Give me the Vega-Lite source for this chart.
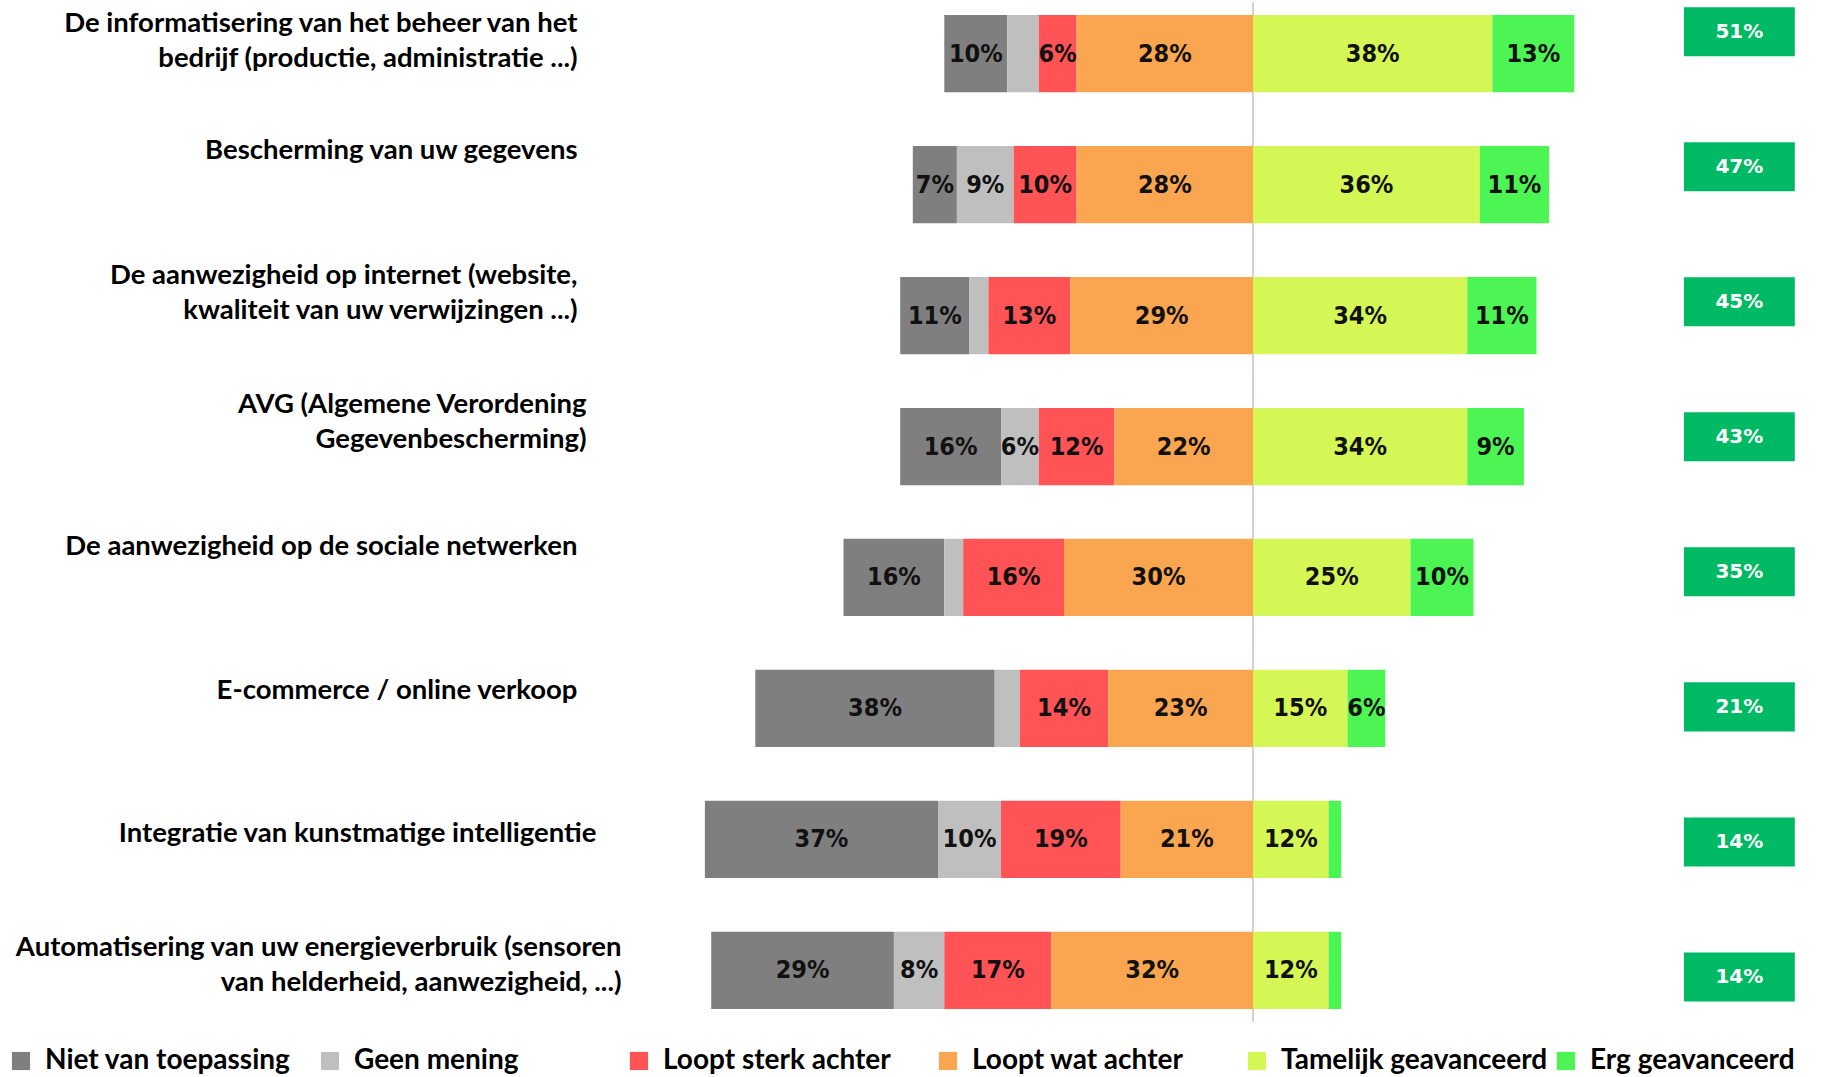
{
  "$schema": "https://vega.github.io/schema/vega-lite/v6.json",
  "width": 1197,
  "height": 1020,
  "autosize": {"type": "none"},
  "padding": {"left": 623, "top": 2, "right": 1, "bottom": 55},
  "background": "white",
  "config": {"view": {"stroke": null}},
  "datasets": {
    "seg": [
      {"item": "De informatisering van het beheer van het|bedrijf (productie, administratie ...)", "cat": "Niet van toepassing", "value": 10},
      {"item": "De informatisering van het beheer van het|bedrijf (productie, administratie ...)", "cat": "Geen mening", "value": 5},
      {"item": "De informatisering van het beheer van het|bedrijf (productie, administratie ...)", "cat": "Loopt sterk achter", "value": 6},
      {"item": "De informatisering van het beheer van het|bedrijf (productie, administratie ...)", "cat": "Loopt wat achter", "value": 28},
      {"item": "De informatisering van het beheer van het|bedrijf (productie, administratie ...)", "cat": "Tamelijk geavanceerd", "value": 38},
      {"item": "De informatisering van het beheer van het|bedrijf (productie, administratie ...)", "cat": "Erg geavanceerd", "value": 13},
      {"item": "Bescherming van uw gegevens", "cat": "Niet van toepassing", "value": 7},
      {"item": "Bescherming van uw gegevens", "cat": "Geen mening", "value": 9},
      {"item": "Bescherming van uw gegevens", "cat": "Loopt sterk achter", "value": 10},
      {"item": "Bescherming van uw gegevens", "cat": "Loopt wat achter", "value": 28},
      {"item": "Bescherming van uw gegevens", "cat": "Tamelijk geavanceerd", "value": 36},
      {"item": "Bescherming van uw gegevens", "cat": "Erg geavanceerd", "value": 11},
      {"item": "De aanwezigheid op internet (website,|kwaliteit van uw verwijzingen ...)", "cat": "Niet van toepassing", "value": 11},
      {"item": "De aanwezigheid op internet (website,|kwaliteit van uw verwijzingen ...)", "cat": "Geen mening", "value": 3},
      {"item": "De aanwezigheid op internet (website,|kwaliteit van uw verwijzingen ...)", "cat": "Loopt sterk achter", "value": 13},
      {"item": "De aanwezigheid op internet (website,|kwaliteit van uw verwijzingen ...)", "cat": "Loopt wat achter", "value": 29},
      {"item": "De aanwezigheid op internet (website,|kwaliteit van uw verwijzingen ...)", "cat": "Tamelijk geavanceerd", "value": 34},
      {"item": "De aanwezigheid op internet (website,|kwaliteit van uw verwijzingen ...)", "cat": "Erg geavanceerd", "value": 11},
      {"item": "AVG (Algemene Verordening|Gegevenbescherming)", "cat": "Niet van toepassing", "value": 16},
      {"item": "AVG (Algemene Verordening|Gegevenbescherming)", "cat": "Geen mening", "value": 6},
      {"item": "AVG (Algemene Verordening|Gegevenbescherming)", "cat": "Loopt sterk achter", "value": 12},
      {"item": "AVG (Algemene Verordening|Gegevenbescherming)", "cat": "Loopt wat achter", "value": 22},
      {"item": "AVG (Algemene Verordening|Gegevenbescherming)", "cat": "Tamelijk geavanceerd", "value": 34},
      {"item": "AVG (Algemene Verordening|Gegevenbescherming)", "cat": "Erg geavanceerd", "value": 9},
      {"item": "De aanwezigheid op de sociale netwerken", "cat": "Niet van toepassing", "value": 16},
      {"item": "De aanwezigheid op de sociale netwerken", "cat": "Geen mening", "value": 3},
      {"item": "De aanwezigheid op de sociale netwerken", "cat": "Loopt sterk achter", "value": 16},
      {"item": "De aanwezigheid op de sociale netwerken", "cat": "Loopt wat achter", "value": 30},
      {"item": "De aanwezigheid op de sociale netwerken", "cat": "Tamelijk geavanceerd", "value": 25},
      {"item": "De aanwezigheid op de sociale netwerken", "cat": "Erg geavanceerd", "value": 10},
      {"item": "E-commerce / online verkoop", "cat": "Niet van toepassing", "value": 38},
      {"item": "E-commerce / online verkoop", "cat": "Geen mening", "value": 4},
      {"item": "E-commerce / online verkoop", "cat": "Loopt sterk achter", "value": 14},
      {"item": "E-commerce / online verkoop", "cat": "Loopt wat achter", "value": 23},
      {"item": "E-commerce / online verkoop", "cat": "Tamelijk geavanceerd", "value": 15},
      {"item": "E-commerce / online verkoop", "cat": "Erg geavanceerd", "value": 6},
      {"item": "Integratie van kunstmatige intelligentie", "cat": "Niet van toepassing", "value": 37},
      {"item": "Integratie van kunstmatige intelligentie", "cat": "Geen mening", "value": 10},
      {"item": "Integratie van kunstmatige intelligentie", "cat": "Loopt sterk achter", "value": 19},
      {"item": "Integratie van kunstmatige intelligentie", "cat": "Loopt wat achter", "value": 21},
      {"item": "Integratie van kunstmatige intelligentie", "cat": "Tamelijk geavanceerd", "value": 12},
      {"item": "Integratie van kunstmatige intelligentie", "cat": "Erg geavanceerd", "value": 2},
      {"item": "Automatisering van uw energieverbruik (sensoren|van helderheid, aanwezigheid, ...)", "cat": "Niet van toepassing", "value": 29},
      {"item": "Automatisering van uw energieverbruik (sensoren|van helderheid, aanwezigheid, ...)", "cat": "Geen mening", "value": 8},
      {"item": "Automatisering van uw energieverbruik (sensoren|van helderheid, aanwezigheid, ...)", "cat": "Loopt sterk achter", "value": 17},
      {"item": "Automatisering van uw energieverbruik (sensoren|van helderheid, aanwezigheid, ...)", "cat": "Loopt wat achter", "value": 32},
      {"item": "Automatisering van uw energieverbruik (sensoren|van helderheid, aanwezigheid, ...)", "cat": "Tamelijk geavanceerd", "value": 12},
      {"item": "Automatisering van uw energieverbruik (sensoren|van helderheid, aanwezigheid, ...)", "cat": "Erg geavanceerd", "value": 2}
    ],
    "tot": [
      {"item": "De informatisering van het beheer van het|bedrijf (productie, administratie ...)", "total": 51},
      {"item": "Bescherming van uw gegevens", "total": 47},
      {"item": "De aanwezigheid op internet (website,|kwaliteit van uw verwijzingen ...)", "total": 45},
      {"item": "AVG (Algemene Verordening|Gegevenbescherming)", "total": 43},
      {"item": "De aanwezigheid op de sociale netwerken", "total": 35},
      {"item": "E-commerce / online verkoop", "total": 21},
      {"item": "Integratie van kunstmatige intelligentie", "total": 14},
      {"item": "Automatisering van uw energieverbruik (sensoren|van helderheid, aanwezigheid, ...)", "total": 14}
    ]
  },
  "layer": [
    {
      "data": {"values": [{}]},
      "mark": {"type": "rule", "color": "#d2d2d2", "strokeWidth": 2},
      "encoding": {"x": {"datum": 0, "type": "quantitative"}}
    },
    {
      "data": {"name": "seg"},
      "transform": [
        {"calculate": "indexof(['Loopt wat achter','Loopt sterk achter','Geen mening','Niet van toepassing'], datum.cat) >= 0 ? -datum.value : datum.value", "as": "sv"},
        {"calculate": "indexof(['Loopt wat achter','Loopt sterk achter','Geen mening','Niet van toepassing','Tamelijk geavanceerd','Erg geavanceerd'], datum.cat) % 4", "as": "ord"},
        {"stack": "sv", "groupby": ["item"], "sort": [{"field": "ord", "order": "ascending"}], "as": ["v0", "v1"]},
        {"calculate": "(datum.v0 + datum.v1) / 2", "as": "mid"},
        {"calculate": "datum.value + '%'", "as": "txt"}
      ],
      "encoding": {
        "y": {
          "field": "item", "type": "nominal", "sort": null,
          "scale": {"paddingInner": 0.41, "paddingOuter": 0.1},
          "axis": {
            "title": null, "domain": false, "ticks": false,
            "labelExpr": "split(datum.label, '|')",
            "labelFont": "Lato", "labelFontWeight": "bold", "labelFontSize": 27.5,
            "labelColor": "#000000",
            "labelPadding": {
              "condition": [
                {"test": "indexof(datum.value,'AVG')===0", "value": 37},
                {"test": "indexof(datum.value,'Integratie')===0", "value": 27},
                {"test": "indexof(datum.value,'Automatisering')===0", "value": 2}
              ],
              "value": 46
            },
            "labelOffset": {
              "condition": [
                {"test": "indexof(datum.value,'De informatisering')===0", "value": -30},
                {"test": "indexof(datum.value,'Bescherming')===0", "value": -34},
                {"test": "indexof(datum.value,'De aanwezigheid op internet')===0", "value": -40},
                {"test": "indexof(datum.value,'AVG')===0", "value": -42},
                {"test": "indexof(datum.value,'De aanwezigheid op de sociale')===0", "value": -30},
                {"test": "indexof(datum.value,'E-commerce')===0", "value": -17},
                {"test": "indexof(datum.value,'Integratie')===0", "value": -5}
              ],
              "value": -22
            },
            "labelLineHeight": 35, "labelLimit": 700, "labelAlign": "right", "labelBaseline": "middle"
          }
        }
      },
      "layer": [
        {
          "mark": {"type": "bar"},
          "encoding": {
            "x": {"field": "v0", "type": "quantitative", "scale": {"domain": [-100, 90], "nice": false, "zero": false}, "axis": null},
            "x2": {"field": "v1"},
            "color": {
              "field": "cat", "type": "nominal",
              "scale": {
                "domain": ["Niet van toepassing", "Geen mening", "Loopt sterk achter", "Loopt wat achter", "Tamelijk geavanceerd", "Erg geavanceerd"],
                "range": ["#7f7f7f", "#bfbfbf", "#ff5356", "#faa54f", "#d4f755", "#4cf553"]
              },
              "legend": {
                "orient": "none", "legendX": -616, "legendY": 1045,
                "direction": "horizontal", "columns": 6, "gridAlign": "all",
                "title": null, "symbolType": "square", "symbolSize": 330, "symbolStrokeWidth": 0, "symbolOpacity": 1,
                "labelFont": "Lato", "labelFontWeight": "bold", "labelFontSize": 28, "labelColor": "#000000",
                "columnPadding": 4, "labelLimit": 400, "labelOffset": 10
              }
            }
          }
        },
        {
          "transform": [{"filter": "datum.value >= 6"}],
          "mark": {"type": "text", "font": "Liberation Sans Narrow, DejaVu Sans Condensed, sans-serif", "fontWeight": "bold", "fontSize": 25, "color": "#111111", "align": "center", "baseline": "middle"},
          "encoding": {
            "x": {"field": "mid", "type": "quantitative"},
            "text": {"field": "txt"}
          }
        }
      ]
    },
    {
      "data": {"name": "tot"},
      "transform": [{"calculate": "datum.total + '%'", "as": "txt"}],
      "encoding": {
        "y": {
          "field": "item", "type": "nominal", "sort": null,
          "scale": {"paddingInner": 0.637, "paddingOuter": 0.095, "align": 0.2},
          "axis": null
        }
      },
      "layer": [
        {
          "mark": {"type": "bar", "color": "#00b964"},
          "encoding": {
            "x": {"datum": 68.4, "type": "quantitative"},
            "x2": {"datum": 86}
          }
        },
        {
          "mark": {"type": "text", "font": "DejaVu Sans", "fontWeight": "bold", "fontSize": 20, "color": "#ffffff", "align": "center", "baseline": "middle"},
          "encoding": {
            "x": {"datum": 77.2, "type": "quantitative"},
            "text": {"field": "txt"}
          }
        }
      ]
    }
  ],
  "resolve": {"scale": {"y": "independent"}}
}
